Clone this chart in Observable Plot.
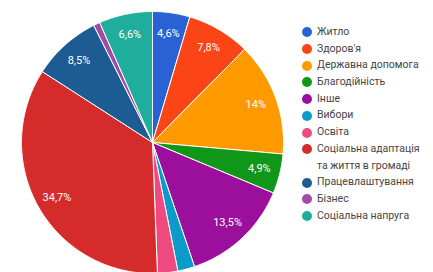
<!DOCTYPE html>
<html>
<head>
<meta charset="utf-8">
<script src="https://cdn.jsdelivr.net/npm/d3@7"></script>
<script src="https://cdn.jsdelivr.net/npm/@observablehq/plot@0.6"></script>
<style>
  html, body { margin: 0; padding: 0; background: #fff; overflow: hidden; }
  #wrap { position: relative; width: 433px; height: 272px; }
  #chart { position: absolute; left: 0; top: 0; }
  #legend { position: absolute; left: 302px; top: 24px; font-family: Roboto, "Noto Sans", sans-serif; font-size: 10.5px; color: #444; }
  .item { display: flex; align-items: flex-start; height: 16.7px; line-height: 16.7px; white-space: nowrap; }
  .item.two { height: 33.4px; white-space: normal; width: 125px; }
  .dot { width: 10px; height: 10px; border-radius: 50%; margin: 3.4px 5px 0 0; flex: none; }
</style>
</head>
<body>
<div id="wrap"><div id="chart"></div><div id="legend"></div></div>
<script>
const categories = ["Житло", "Здоров'я", "Державна допомога", "Благодійність", "Інше", "Вибори", "Освіта", "Соціальна адаптація та життя в громаді", "Працевлаштування", "Бізнес", "Соціальна напруга"];
const values = [4.6, 7.8, 14, 4.9, 13.5, 2.1, 2.5, 34.7, 8.5, 0.8, 6.6];
const labels = ["4,6%", "7,8%", "14%", "4,9%", "13,5%", "", "", "34,7%", "8,5%", "", "6,6%"];
const colors = ["#2962d4", "#fb4516", "#ff9900", "#109618", "#9c0f9c", "#0c9bc9", "#ee4a80", "#d52b2b", "#1d5c92", "#a24aa6", "#1fae9c"];

const arcs = d3.pie().sort(null).value(d => d)(values);
const polys = [];
arcs.forEach((a, i) => {
  const n = Math.max(2, Math.ceil((a.endAngle - a.startAngle) / 0.01));
  polys.push({cat: categories[i], x: 0, y: 0});
  for (let k = 0; k <= n; k++) {
    const t = a.startAngle + (a.endAngle - a.startAngle) * k / n;
    polys.push({cat: categories[i], x: Math.sin(t), y: Math.cos(t)});
  }
  polys.push({cat: categories[i], x: 0, y: 0});
});
const lab = arcs.map((a, i) => {
  const m = (a.startAngle + a.endAngle) / 2;
  return {label: labels[i], x: 0.84 * Math.sin(m), y: 0.84 * Math.cos(m)};
}).filter(d => d.label);

const R = 131, cx = 152, cy = 142;
const plot = Plot.plot({
  width: 300, height: 272,
  margin: 0,
  x: {domain: [-1, 1], range: [cx - R, cx + R], axis: null},
  y: {domain: [-1, 1], range: [cy + R, cy - R], axis: null},
  color: {domain: categories, range: colors},
  style: {fontFamily: "Roboto, 'Noto Sans', sans-serif", overflow: "hidden"},
  marks: [
    Plot.line(polys, {x: "x", y: "y", z: "cat", fill: "cat", stroke: "#fff", strokeWidth: 1, strokeLinejoin: "round", curve: "linear"}),
    Plot.text(lab, {x: "x", y: "y", text: "label", fill: "#fff", fontSize: 11})
  ]
});
document.getElementById("chart").appendChild(plot);

const legend = document.getElementById("legend");
categories.forEach((c, i) => {
  const it = document.createElement("div");
  it.className = "item" + (c.length > 25 ? " two" : "");
  const d = document.createElement("span");
  d.className = "dot";
  d.style.background = colors[i];
  const t = document.createElement("span");
  t.textContent = c;
  it.appendChild(d); it.appendChild(t);
  legend.appendChild(it);
});
</script>
</body>
</html>
